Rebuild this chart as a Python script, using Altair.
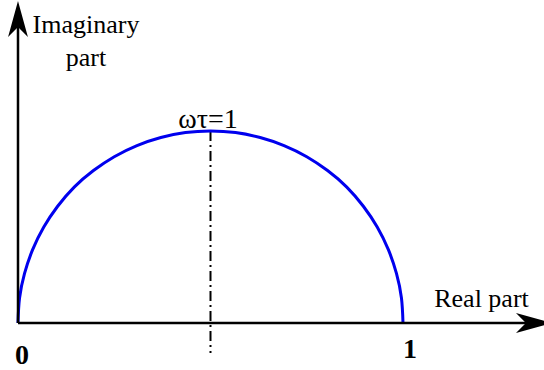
import altair as alt
import pandas as pd

# Debye relaxation semicircle (Cole-Cole plot): real vs imaginary part
real = [0.000, 0.004, 0.017, 0.038, 0.067, 0.103, 0.146, 0.196, 0.250, 0.309,
        0.371, 0.435, 0.500, 0.565, 0.629, 0.691, 0.750, 0.804, 0.854, 0.897,
        0.933, 0.962, 0.983, 0.996, 1.000]
imag = [0.000, 0.065, 0.129, 0.191, 0.250, 0.304, 0.354, 0.397, 0.433, 0.462,
        0.483, 0.496, 0.500, 0.496, 0.483, 0.462, 0.433, 0.397, 0.354, 0.304,
        0.250, 0.191, 0.129, 0.065, 0.000]

curve = pd.DataFrame({"re": real, "im": imag, "i": range(len(real))})

W, H = 544, 370
XS = alt.Scale(domain=[-0.046753, 1.366234], nice=False, zero=False)
YS = alt.Scale(domain=[-0.122396, 0.841146], nice=False, zero=False)

SERIF = "'Liberation Serif', 'Times New Roman', 'DejaVu Serif', serif"
ARROW = "M0,-1 L0.55,1 L0,0.45 L-0.55,1 Z"
HEAD = 1300


def xd(v):
    return alt.XDatum(v, type="quantitative", scale=XS, axis=None)


def yd(v):
    return alt.YDatum(v, type="quantitative", scale=YS, axis=None)


semicircle = alt.Chart(curve).mark_line(
    color="#0000ee", strokeWidth=3, interpolate="natural"
).encode(
    x=alt.X("re:Q", scale=XS, axis=None),
    y=alt.Y("im:Q", scale=YS, axis=None),
    order="i:Q",
)

base = alt.Chart(pd.DataFrame({"d": [0]}))

x_axis = base.mark_rule(color="black", strokeWidth=2.5).encode(
    x=xd(0), x2=alt.X2Datum(1.335), y=yd(0)
)
y_axis = base.mark_rule(color="black", strokeWidth=2.5).encode(
    x=xd(0), y=yd(0), y2=alt.Y2Datum(0.785)
)
x_head = base.mark_point(
    shape=ARROW, filled=True, size=HEAD, color="black", opacity=1, angle=90, strokeWidth=0
).encode(x=xd(1.3403), y=yd(0))
y_head = base.mark_point(
    shape=ARROW, filled=True, size=HEAD, color="black", opacity=1, strokeWidth=0
).encode(x=xd(0), y=yd(0.7917))

peak_line = base.mark_rule(
    color="black", strokeWidth=2, strokeDash=[10, 4, 2, 4]
).encode(x=xd(0.5), y=yd(0.5), y2=alt.Y2Datum(-0.078))


def label(txt, x, y, size=26, weight="normal", align="center"):
    return base.mark_text(
        text=txt, font=SERIF, fontSize=size, fontWeight=weight,
        align=align, baseline="alphabetic", color="black"
    ).encode(x=xd(x), y=yd(y))


labels = [
    label("Imaginary", 0.1766, 0.7552),
    label("part", 0.1766, 0.6693),
    label("Real part", 1.2039, 0.0417),
    label("ωτ=1", 0.4935, 0.5078, size=28),
    label("0", 0.0104, -0.1068, size=28, weight="bold"),
    label("1", 1.0182, -0.0911, size=28, weight="bold"),
]

chart = alt.layer(
    peak_line, semicircle, x_axis, y_axis, x_head, y_head, *labels
).properties(
    width=W, height=H, autosize=alt.AutoSizeParams(type="none"), padding=0
).configure_view(stroke=None)

chart.save("out.html", embed_options={"renderer": "svg", "actions": False})
